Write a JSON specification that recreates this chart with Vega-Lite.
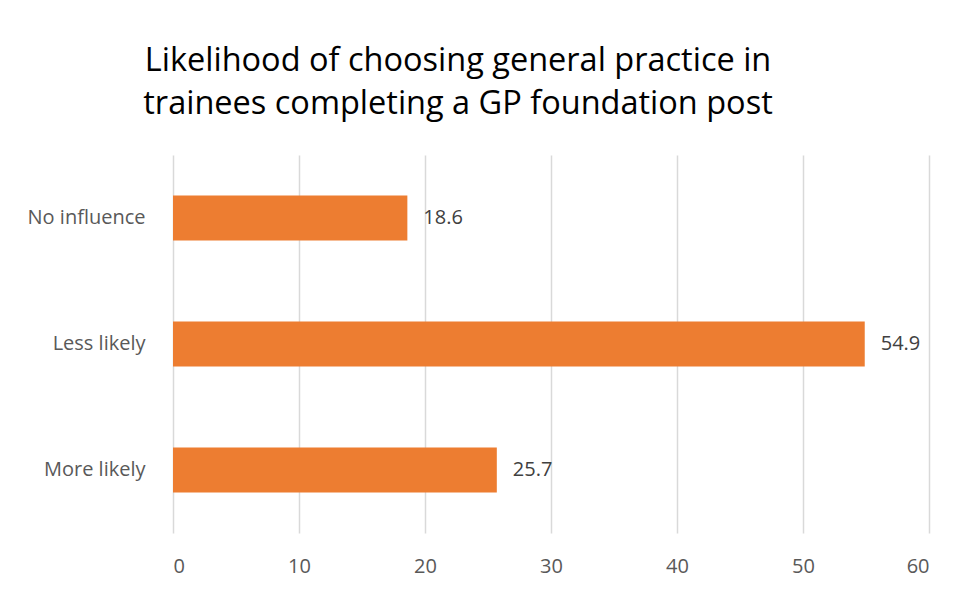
{
  "$schema": "https://vega.github.io/schema/vega-lite/v6.json",
  "autosize": "none",
  "width": 756,
  "height": 378,
  "padding": {"left": 173, "top": 155, "right": 29, "bottom": 56},
  "background": "white",
  "title": {
    "text": ["Likelihood of choosing general practice in", "trainees completing a GP foundation post"],
    "font": "Open Sans",
    "fontSize": 32.5,
    "fontWeight": "normal",
    "color": "#000000",
    "lineHeight": 43,
    "anchor": "middle",
    "dx": -93,
    "offset": 35
  },
  "data": {
    "values": [
      {"category": "No influence", "value": 18.6},
      {"category": "Less likely", "value": 54.9},
      {"category": "More likely", "value": 25.7}
    ]
  },
  "encoding": {
    "y": {
      "field": "category",
      "type": "nominal",
      "sort": null,
      "scale": {"paddingInner": 0.643, "paddingOuter": 0.3215},
      "axis": {
        "title": null,
        "domain": false,
        "ticks": false,
        "labelFont": "Open Sans",
        "labelFontSize": 20,
        "labelColor": "#595959",
        "labelPadding": 28
      }
    },
    "x": {
      "field": "value",
      "type": "quantitative",
      "scale": {"domain": [0, 60], "nice": false},
      "axis": {
        "title": null,
        "values": [0, 10, 20, 30, 40, 50, 60],
        "domain": false,
        "ticks": false,
        "grid": true,
        "gridColor": "#d9d9d9",
        "gridWidth": 1.5,
        "labelFont": "Open Sans",
        "labelFontSize": 20,
        "labelColor": "#595959",
        "labelPadding": 23
      }
    }
  },
  "layer": [
    {"mark": {"type": "bar", "color": "#ED7D31"}},
    {
      "mark": {"type": "text", "align": "left", "dx": 16, "font": "Open Sans", "fontSize": 20, "color": "#404040"},
      "encoding": {"text": {"field": "value", "type": "quantitative", "format": ".1f"}}
    }
  ],
  "config": {"view": {"stroke": null}}
}
